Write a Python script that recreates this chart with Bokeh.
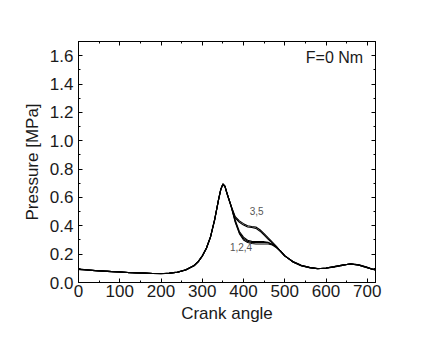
from bokeh.plotting import figure
from bokeh.models import (FixedTicker, PrintfTickFormatter, LinearAxis,
                          CustomJSTickFormatter, Label, Range1d)
from bokeh.embed import file_html
from bokeh.resources import INLINE

# Crank angle samples
X_LEFT = [0, 20, 40, 60, 80, 100, 120, 140, 160, 180, 200, 220, 240, 260,
          280, 290, 300, 310, 320, 330, 340, 345, 350, 355, 360, 370]
X_MID = [380, 390, 400, 410, 420, 430, 440, 450, 460, 470, 480]
X_RIGHT = [490, 500, 520, 540, 560, 580, 600, 620, 640, 660, 680, 700, 710, 720]

# Common compression / peak part (all cases)
P_LEFT_A = [0.092, 0.088, 0.084, 0.080, 0.077, 0.074, 0.071, 0.068, 0.066, 0.064,
            0.063, 0.065, 0.072, 0.088, 0.118, 0.145, 0.185, 0.240, 0.320, 0.440,
            0.590, 0.655, 0.695, 0.680, 0.630, 0.540]
P_LEFT_B = [0.095, 0.090, 0.085, 0.082, 0.078, 0.075, 0.070, 0.069, 0.067, 0.063,
            0.062, 0.066, 0.073, 0.090, 0.120, 0.147, 0.188, 0.243, 0.323, 0.445,
            0.594, 0.660, 0.692, 0.676, 0.626, 0.535]

# Expansion part: cases 1, 2, 4 (lower) and 3, 5 (upper)
P_MID_1 = [0.430, 0.350, 0.310, 0.290, 0.282, 0.282, 0.283, 0.283, 0.280, 0.268, 0.250]
P_MID_2 = [0.425, 0.345, 0.300, 0.282, 0.275, 0.272, 0.272, 0.272, 0.272, 0.265, 0.245]
P_MID_4 = [0.440, 0.360, 0.320, 0.298, 0.290, 0.288, 0.288, 0.288, 0.283, 0.270, 0.250]
P_MID_3 = [0.465, 0.435, 0.415, 0.400, 0.395, 0.392, 0.372, 0.345, 0.315, 0.285, 0.255]
P_MID_5 = [0.455, 0.425, 0.405, 0.392, 0.388, 0.382, 0.362, 0.335, 0.305, 0.278, 0.250]

# Exhaust part (all cases)
P_RIGHT_A = [0.222, 0.190, 0.145, 0.118, 0.105, 0.097, 0.102, 0.112, 0.123, 0.130,
             0.122, 0.105, 0.095, 0.088]
P_RIGHT_B = [0.218, 0.186, 0.148, 0.121, 0.107, 0.099, 0.100, 0.109, 0.121, 0.132,
             0.125, 0.108, 0.097, 0.090]

X_TICKS = [0, 100, 200, 300, 400, 500, 600, 700]
X_MINOR = [50, 150, 250, 350, 450, 550, 650]
Y_TICKS = [0.0, 0.2, 0.4, 0.6, 0.8, 1.0, 1.2, 1.4, 1.6]
Y_MINOR = [0.1, 0.3, 0.5, 0.7, 0.9, 1.1, 1.3, 1.5, 1.7]

FONT = "Liberation Sans"

p = figure(frame_width=297, frame_height=241,
           min_border_left=78, min_border_top=41, min_border_right=45,
           min_border_bottom=40,
           x_range=Range1d(0, 720), y_range=Range1d(0, 1.7),
           output_backend="svg", toolbar_location=None,
           background_fill_color="white", border_fill_color="white")
p.xgrid.visible = False
p.ygrid.visible = False
p.outline_line_color = "black"
p.outline_line_width = 1

xt = FixedTicker(ticks=X_TICKS, minor_ticks=X_MINOR)
yt = FixedTicker(ticks=Y_TICKS, minor_ticks=Y_MINOR)


def style(ax):
    ax.axis_line_color = "black"
    ax.major_tick_in = 4
    ax.major_tick_out = 0
    ax.minor_tick_in = 2
    ax.minor_tick_out = 0
    ax.major_tick_line_color = "black"
    ax.minor_tick_line_color = "black"
    ax.major_label_text_font = FONT
    ax.major_label_text_font_size = "17px"
    ax.major_label_text_color = "#1a1a1a"
    ax.axis_label_text_font = FONT
    ax.axis_label_text_font_size = "17px"
    ax.axis_label_text_font_style = "normal"
    ax.axis_label_text_color = "#1a1a1a"


p.xaxis.ticker = xt
p.yaxis.ticker = yt
p.yaxis.formatter = PrintfTickFormatter(format="%.1f")
p.xaxis.axis_label = "Crank angle"
p.yaxis.axis_label = "Pressure [MPa]"
style(p.xaxis[0])
style(p.yaxis[0])
p.xaxis.major_label_standoff = 2
p.xaxis.axis_label_standoff = 4
p.yaxis.major_label_standoff = 5
p.yaxis.axis_label_standoff = 5

empty = CustomJSTickFormatter(code="return ''")
top = LinearAxis(ticker=xt, formatter=empty)
right = LinearAxis(ticker=yt, formatter=empty)
style(top)
style(right)
top.major_label_text_font_size = "1px"
right.major_label_text_font_size = "1px"
top.major_label_standoff = 0
right.major_label_standoff = 0
p.add_layout(top, "above")
p.add_layout(right, "right")

X_ALL = X_LEFT + X_MID + X_RIGHT
curves = [
    P_LEFT_A + P_MID_1 + P_RIGHT_A,
    P_LEFT_B + P_MID_2 + P_RIGHT_B,
    P_LEFT_A + P_MID_3 + P_RIGHT_B,
    P_LEFT_B + P_MID_4 + P_RIGHT_A,
    P_LEFT_A + P_MID_5 + P_RIGHT_A,
]
for ys in curves:
    p.line(X_ALL, ys, line_color="black", line_width=1.1)

p.add_layout(Label(x=551, y=1.585, text="F=0 Nm", text_baseline="middle",
                   text_font=FONT, text_font_size="16px", text_color="#1a1a1a"))
p.add_layout(Label(x=432, y=0.507, text="3,5", text_baseline="middle",
                   text_align="center", text_font=FONT, text_font_size="10px",
                   text_color="#555555"))
p.add_layout(Label(x=394, y=0.25, text="1,2,4", text_baseline="middle",
                   text_align="center", text_font=FONT, text_font_size="10px",
                   text_color="#555555"))

open("out.html", "w").write(file_html(p, INLINE))
